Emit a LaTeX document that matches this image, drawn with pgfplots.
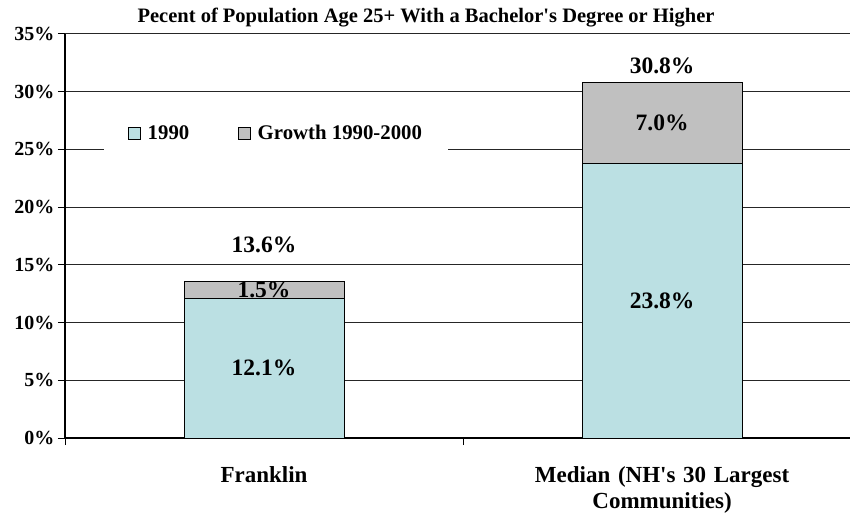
\documentclass[border=0pt]{standalone}
\usepackage{pgfplots}
\pgfplotsset{compat=1.18}
\usepackage{fontspec}
\newfontfamily\tnr{Liberation Serif}
\setmainfont{Liberation Serif}
\definecolor{c1990}{RGB}{187,224,227}
\definecolor{cgrow}{RGB}{192,192,192}
\newcommand{\fs}[1]{\fontsize{#1}{#1}\tnr\bfseries}
\begin{document}
\begin{tikzpicture}
\path[use as bounding box] (0,0) rectangle (850pt,512pt);
\node[anchor=base] at (426pt,489pt) {\fs{20.5}Pecent of Population Age 25+ With a Bachelor's Degree or Higher};
\begin{axis}[
  at={(65pt,74pt)}, anchor=south west,
  scale only axis, width=785pt, height=404pt,
  ybar stacked, bar width=160pt,
  xmin=-0.5, xmax=1.472,
  ymin=0, ymax=35,
  axis x line=bottom, axis y line=left,
  axis line style={-, line width=1.2pt},
  tick align=outside,
  major tick length=7pt,
  tick style={black, line width=1pt},
  ytick={0,5,10,15,20,25,30,35},
  yticklabels={0\%,5\%,10\%,15\%,20\%,25\%,30\%,35\%},
  yticklabel style={font=\fs{20}},
  ymajorgrids,
  grid style={black!85, line width=1pt},
  xtick={-0.5,0.5,1.5},
  xticklabels={,,},
  extra x ticks={0,1},
  extra x tick labels={Franklin,{Median (NH's 30 Largest\\Communities)}},
  extra x tick style={major tick length=0pt, xticklabel style={font=\fontsize{23}{26}\tnr\bfseries, align=center, text width=320pt, yshift=-25pt}},
  clip=false,
  legend style={at={(0.269,0.755)}, anchor=center, draw=none, fill=white,
    legend columns=2, font=\fs{20.8}, inner xsep=24pt, inner ysep=12pt,
    /tikz/every even column/.append style={column sep=47pt}},
  legend cell align=left,
  legend image code/.code={\draw[#1] (0pt,-6pt) rectangle (12pt,6pt); \path[draw=none,fill=none] (12pt,0pt) -- (17pt,0pt);},
]
\addplot[fill=c1990, draw=black, line width=0.8pt] coordinates {(0,12.1) (1,23.8)};
\addplot[fill=cgrow, draw=black, line width=0.8pt] coordinates {(0,1.5) (1,7.0)};
\legend{1990, Growth 1990-2000}
\coordinate (l1) at (axis cs:0,6.05);
\coordinate (l2) at (axis cs:0,12.85);
\coordinate (l3) at (axis cs:0,16.7);
\coordinate (l4) at (axis cs:1,11.9);
\coordinate (l5) at (axis cs:1,27.3);
\coordinate (l6) at (axis cs:1,32.2);
\end{axis}
\node[font=\fs{23.5}] at (l1) {12.1\%};
\node[font=\fs{23.5}] at (l2) {1.5\%};
\node[font=\fs{23.5}] at (l3) {13.6\%};
\node[font=\fs{23.5}] at (l4) {23.8\%};
\node[font=\fs{23.5}] at (l5) {7.0\%};
\node[font=\fs{23.5}] at (l6) {30.8\%};
\end{tikzpicture}
\end{document}
